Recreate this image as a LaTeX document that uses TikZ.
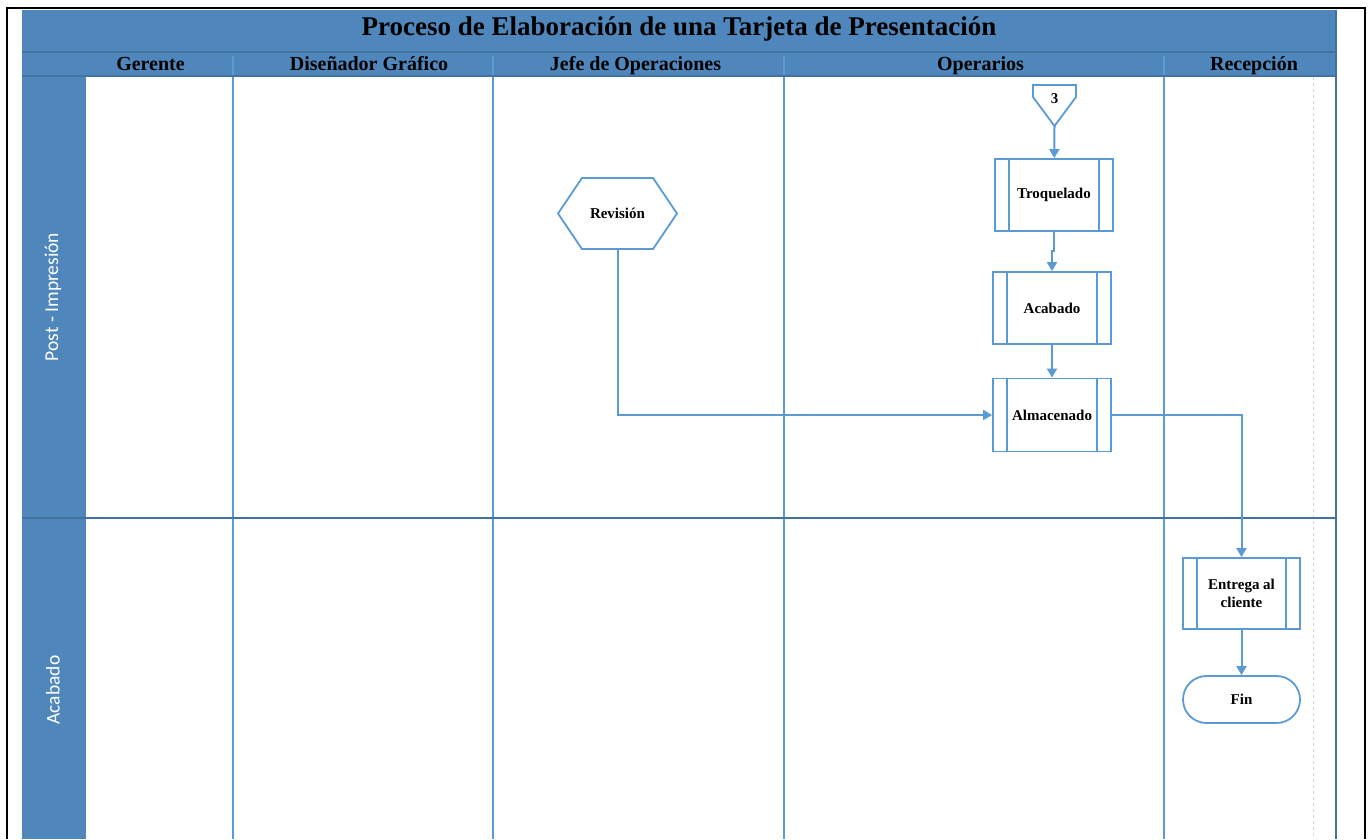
\documentclass[tikz,border=0pt]{standalone}
\usepackage{fontspec}
\setmainfont{Liberation Serif}
\newfontfamily\lanefont{Carlito}
\usepackage{xcolor}
\usetikzlibrary{arrows.meta,shapes.symbols,shapes.misc,calc}

\definecolor{poolblue}{RGB}{79,135,188}
\definecolor{edgeblue}{RGB}{66,114,160}
\definecolor{flowblue}{RGB}{91,155,213}
\definecolor{sepgray}{RGB}{214,214,214}

\begin{document}
\begin{tikzpicture}[x=1pt,y=-1pt,>={Triangle[length=9pt,width=10pt]},line join=miter]
  \tikzstyle{head}=[font={\fontsize{20}{24}\selectfont\bfseries},inner sep=0pt,anchor=base]
  \tikzstyle{lane}=[rotate=90,text=white,font={\lanefont\fontsize{19.5}{22}\selectfont},inner sep=0pt]
  \tikzstyle{box}=[draw=flowblue,line width=1.8pt,fill=white,inner sep=2pt,align=center,
                   font={\fontsize{15}{18}\selectfont\bfseries}]
  \tikzstyle{proc}=[box,minimum width=118pt,minimum height=72pt,
    path picture={\draw[flowblue,line width=1.8pt]
      ([xshift=14pt]path picture bounding box.north west) -- ([xshift=14pt]path picture bounding box.south west)
      ([xshift=-14pt]path picture bounding box.north east) -- ([xshift=-14pt]path picture bounding box.south east);}]
  \tikzstyle{flow}=[draw=flowblue,line width=2pt,->]
  \tikzstyle{every edge}=[flow]

  \useasboundingbox (0,0) rectangle (1371,839);

  % pool background and lanes
  \fill[poolblue] (22,10) rectangle (1336,76);
  \fill[poolblue] (22,76) rectangle (86,839);
  \foreach \x in {233,493,784,1164}
    \draw[flowblue,line width=1.6pt] (\x,56) -- (\x,839);
  \draw[sepgray,dashed,line width=1pt] (1313,77) -- (1313,839);
  \draw[edgeblue,line width=1.5pt] (22,52) -- (1336,52);
  \draw[edgeblue,line width=1.5pt] (22,76) -- (1336,76);
  \draw[edgeblue,line width=1.8pt] (22,518) -- (1336,518);
  \draw[edgeblue,line width=1.5pt] (1336,10) -- (1336,839);
  \draw[black,line width=2pt] (7,839) -- (7,8) -- (1365,8) -- (1365,839);

  % titles
  \node[font={\fontsize{27}{31}\selectfont\bfseries},inner sep=0pt,anchor=base] (title) at (679,35)
    {Proceso de Elaboración de una Tarjeta de Presentación};
  \node[head] (H1) at (150.5,70.5) {Gerente};
  \node[head] (H2) at (369,70.5) {Diseñador Gráfico};
  \node[head] (H3) at (635.5,70.5) {Jefe de Operaciones};
  \node[head] (H4) at (980.5,70.5) {Operarios};
  \node[head] (H5) at (1254,70.5) {Recepción};
  \node[lane] (L1) at (53,297) {Post - Impresión};
  \node[lane] (L2) at (53,690) {Acabado};

  % off-page connector
  \draw[flowblue,line width=1.8pt,fill=white] (1033,85) -- (1076,85) -- (1076,97)
    -- (1054.5,126) -- (1033,97) -- cycle;
  \node[font={\fontsize{15}{18}\selectfont\bfseries},inner sep=0pt] (C) at (1054.5,99) {3};
  \coordinate (Cp) at (1054.5,126);

  % flow
  \node[proc] (T) at (1054,195) {Troquelado};
  \node[proc] (A) at (1052,308) {Acabado};
  \node[proc,minimum height=73pt] (M) at (1052,415) {Almacenado};
  \node[box,shape=signal,signal to=east and west,signal pointer angle=112,
        minimum width=119pt,minimum height=71pt,inner sep=0pt] (R) at (617.5,213.5) {Revisión};
  \node[proc,minimum width=117pt,minimum height=71pt] (E) at (1241.5,593.5) {Entrega al\\cliente};
  \node[box,shape=rounded rectangle,minimum width=121pt,minimum height=47pt] (F) at (1241.5,699.5) {Fin};

  \draw[flow] (T.south) -- ++(0,19) -| (A.north);
  \draw[flow] (R) |- (M);
  \draw[flow] (M) -| (E);
  \path (Cp) edge (T)
        (A) edge (M)
        (E) edge (F);
\end{tikzpicture}
\end{document}
